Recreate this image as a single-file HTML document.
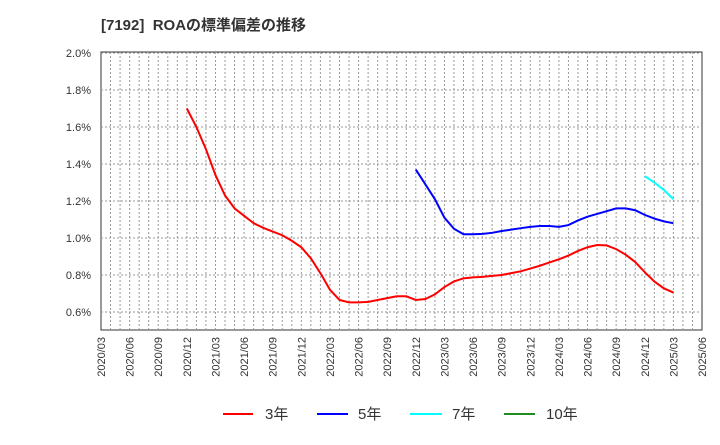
<!DOCTYPE html>
<html><head><meta charset="utf-8"><style>
body{margin:0;background:#fff;font-family:"Liberation Sans","Noto Sans CJK JP",sans-serif;}
</style></head><body>
<svg id="c" width="720" height="440" xmlns="http://www.w3.org/2000/svg">
<text x="101" y="30" font-size="15" font-weight="bold" fill="#333" xml:space="preserve">[7192]  ROAの標準偏差の推移</text>
<rect x="101" y="52" width="601" height="278" fill="none" stroke="#333"/>
<g id="grid"></g><g id="ax"></g><g id="lines"></g>
<g font-size="15" fill="#333">
<line x1="223" y1="414" x2="253" y2="414" stroke="#f00" stroke-width="2"/><text x="265" y="419">3年</text>
<line x1="317" y1="414" x2="348" y2="414" stroke="#00f" stroke-width="2"/><text x="358" y="419">5年</text>
<line x1="410" y1="414" x2="442" y2="414" stroke="#0ff" stroke-width="2"/><text x="452" y="419">7年</text>
<line x1="504" y1="414" x2="535" y2="414" stroke="#228b22" stroke-width="2"/><text x="546" y="419">10年</text>
</g>
</svg>
<script>
const yTicks=[0.6,0.8,1.0,1.2,1.4,1.6,1.8,2.0];
const xLabels=["2020/03","2020/06","2020/09","2020/12","2021/03","2021/06","2021/09","2021/12","2022/03","2022/06","2022/09","2022/12","2023/03","2023/06","2023/09","2023/12","2024/03","2024/06","2024/09","2024/12","2025/03","2025/06"];
const s3=[1.70,1.60,1.48,1.34,1.23,1.16,1.12,1.08,1.055,1.035,1.015,0.985,0.95,0.89,0.81,0.72,0.665,0.652,0.652,0.655,0.665,0.675,0.685,0.685,0.665,0.67,0.695,0.735,0.765,0.782,0.787,0.79,0.795,0.80,0.81,0.82,0.835,0.85,0.868,0.885,0.905,0.93,0.95,0.962,0.96,0.94,0.91,0.87,0.815,0.765,0.728,0.705];
const s5=[1.37,1.29,1.21,1.11,1.05,1.02,1.02,1.022,1.028,1.038,1.045,1.053,1.06,1.065,1.065,1.06,1.07,1.095,1.115,1.13,1.145,1.16,1.16,1.15,1.125,1.105,1.09,1.08];
const s7=[1.335,1.30,1.26,1.21];
const s3Start=9,s5Start=33,s7Start=57; // month index from 2020/03
const X=m=>101+m*601/63, Y=v=>330.5-(v-0.5)*185;
const NS="http://www.w3.org/2000/svg";
function mk(p,t,a){const e=document.createElementNS(NS,t);for(const k in a)e.setAttribute(k,a[k]);document.getElementById(p).appendChild(e);return e;}
for(let m=1;m<63;m++){const e=mk('grid','line',{x1:X(m),x2:X(m),y1:52,y2:330,stroke:'#999','stroke-dasharray':'2,2'});

}
yTicks.forEach(v=>{const e=mk('grid','line',{x1:101,x2:702,y1:Y(v),y2:Y(v),stroke:'#999','stroke-dasharray':'2,2'});


const t=mk('ax','text',{x:91,y:Y(v)+4,'font-size':11,'text-anchor':'end',fill:'#333'});t.textContent=v.toFixed(1)+'%';

});
xLabels.forEach((l,i)=>{const x=X(i*3)+4;const t=mk('ax','text',{x:x,y:337,'font-size':11,'text-anchor':'end',fill:'#333',transform:`rotate(-90 ${x} 337)`});t.textContent=l;

});
function line(d,st,c,n){const e=mk('lines','polyline',{points:d.map((v,i)=>X(st+i)+','+Y(v)).join(' '),fill:'none',stroke:c,'stroke-width':2});

}
line(s3,s3Start,'#f00','series-3y');line(s5,s5Start,'#00f','series-5y');line(s7,s7Start,'#0ff','series-7y');
</script>
</body></html>
